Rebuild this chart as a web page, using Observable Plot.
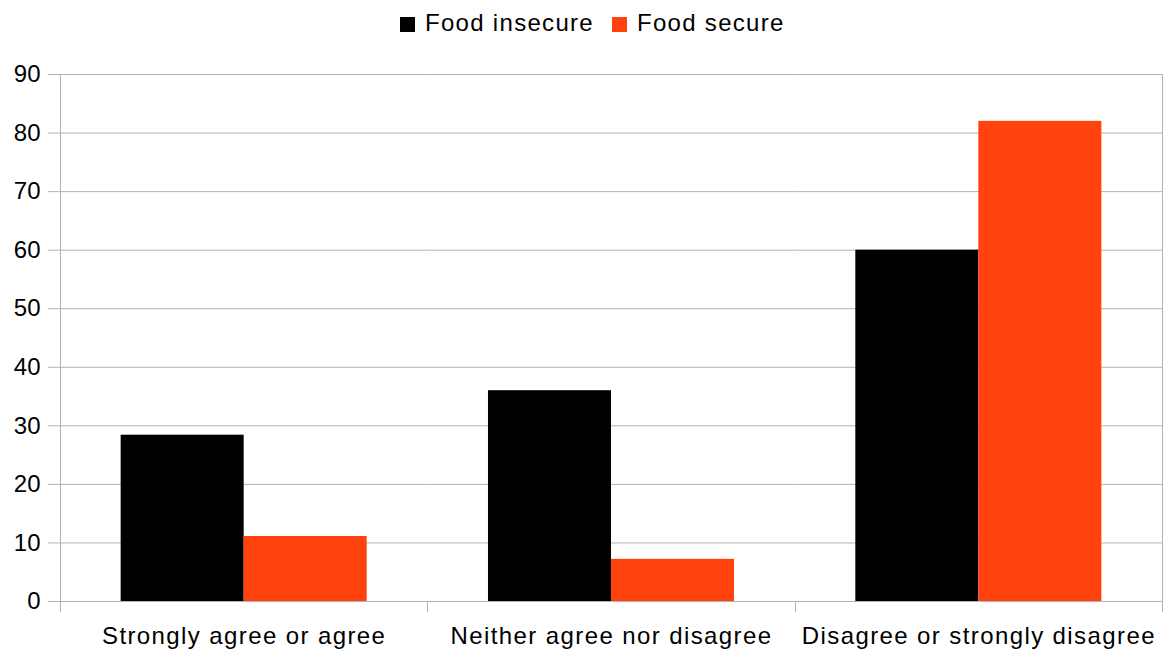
<!DOCTYPE html>
<html>
<head>
<meta charset="utf-8">
<script src="https://cdn.jsdelivr.net/npm/d3@7"></script>
<script src="https://cdn.jsdelivr.net/npm/@observablehq/plot@0.6"></script>
<style>
  html, body { margin: 0; padding: 0; background: #fff; }
  #wrap { position: relative; width: 1163px; height: 651px; font-family: "Liberation Sans", Arial, sans-serif; }
  #legend { position: absolute; top: 11px; left: 400px; height: 24px; line-height: 24px; font-size: 24px; letter-spacing: 1.3px; display: flex; align-items: center; white-space: nowrap; color: #000; }
  #legend .sw { display: inline-block; width: 15px; height: 15px; margin-right: 10px; position: relative; top: 1px; }
  #legend .item { display: flex; align-items: center; margin-right: 18px; }
  #chart { position: absolute; top: 46px; left: 0; }
  #chart svg g[aria-label="fx-axis tick label"] text { letter-spacing: 1.4px; }
</style>
</head>
<body>
<div id="wrap">
  <div id="legend"></div>
  <div id="chart"></div>
</div>
<script>
// Survey response categories and the share (%) in each group
const categories = ["Strongly agree or agree", "Neither agree nor disagree", "Disagree or strongly disagree"];
const seriesNames = ["Food insecure", "Food secure"];
const foodInsecure = [28.4, 36, 60];
const foodSecure = [11.1, 7.2, 82];
const seriesColors = ["#000000", "#ff420e"];
const yTicks = [0, 10, 20, 30, 40, 50, 60, 70, 80, 90];

const rows = categories.flatMap((c, i) => [
  {category: c, series: seriesNames[0], value: foodInsecure[i]},
  {category: c, series: seriesNames[1], value: foodSecure[i]}
]);

// Legend
const legend = d3.select("#legend");
seriesNames.forEach((name, i) => {
  const item = legend.append("span").attr("class", "item");
  item.append("span").attr("class", "sw").style("background", seriesColors[i]);
  item.append("span").text(name);
});

const grey = "#b3b3b3";

const chart = Plot.plot({
  width: 1163,
  height: 605,
  marginTop: 28,
  marginBottom: 50,
  marginLeft: 60,
  marginRight: 1,
  style: {fontFamily: "Liberation Sans, Arial, sans-serif", fontSize: "24px", color: "#000", background: "#fff"},
  fx: {domain: categories, padding: 0, round: false, axis: null, label: null},
  x: {domain: seriesNames, paddingInner: 0, paddingOuter: 0.493, round: false, axis: null, label: null},
  y: {domain: [0, 90], axis: null, label: null},
  color: {domain: seriesNames, range: seriesColors},
  marks: [
    Plot.gridY(yTicks, {stroke: grey, strokeOpacity: 1}),
    Plot.barY(rows, {fx: "category", x: "series", y: "value", fill: "series"}),
    Plot.axisY(yTicks, {anchor: "left", tickSize: 12, tickPadding: 8, stroke: grey, strokeOpacity: 1, fill: "#000", fontSize: 24, label: null}),
    Plot.axisFx({anchor: "bottom", tickSize: 0, tickPadding: 25, fontSize: 24, fill: "#000", label: null})
  ]
});

document.getElementById("chart").appendChild(chart);

// Category boundary ticks and the outer vertical axis lines
const fx = chart.scale("fx");
const y = chart.scale("y");
const y0 = y.apply(0), yTop = y.apply(90);
const bounds = categories.map(c => fx.apply(c));
bounds.push(fx.apply(categories[categories.length - 1]) + fx.bandwidth);
const svg = d3.select(chart.tagName.toLowerCase() === "svg" ? chart : chart.querySelector("svg"));
svg.selectAll("text").filter(function () {
  return categories.includes(this.textContent);
}).style("letter-spacing", "1.4px");
const g = svg.append("g").attr("stroke", grey).attr("stroke-width", 1);
bounds.forEach((bx, i) => {
  const full = i === 0 || i === bounds.length - 1;
  const px = Math.min(Math.round(bx) + 0.5, 1162.5);
  g.append("line")
    .attr("x1", px).attr("x2", px)
    .attr("y1", full ? yTop : y0)
    .attr("y2", y0 + 11);
});
</script>
</body>
</html>
